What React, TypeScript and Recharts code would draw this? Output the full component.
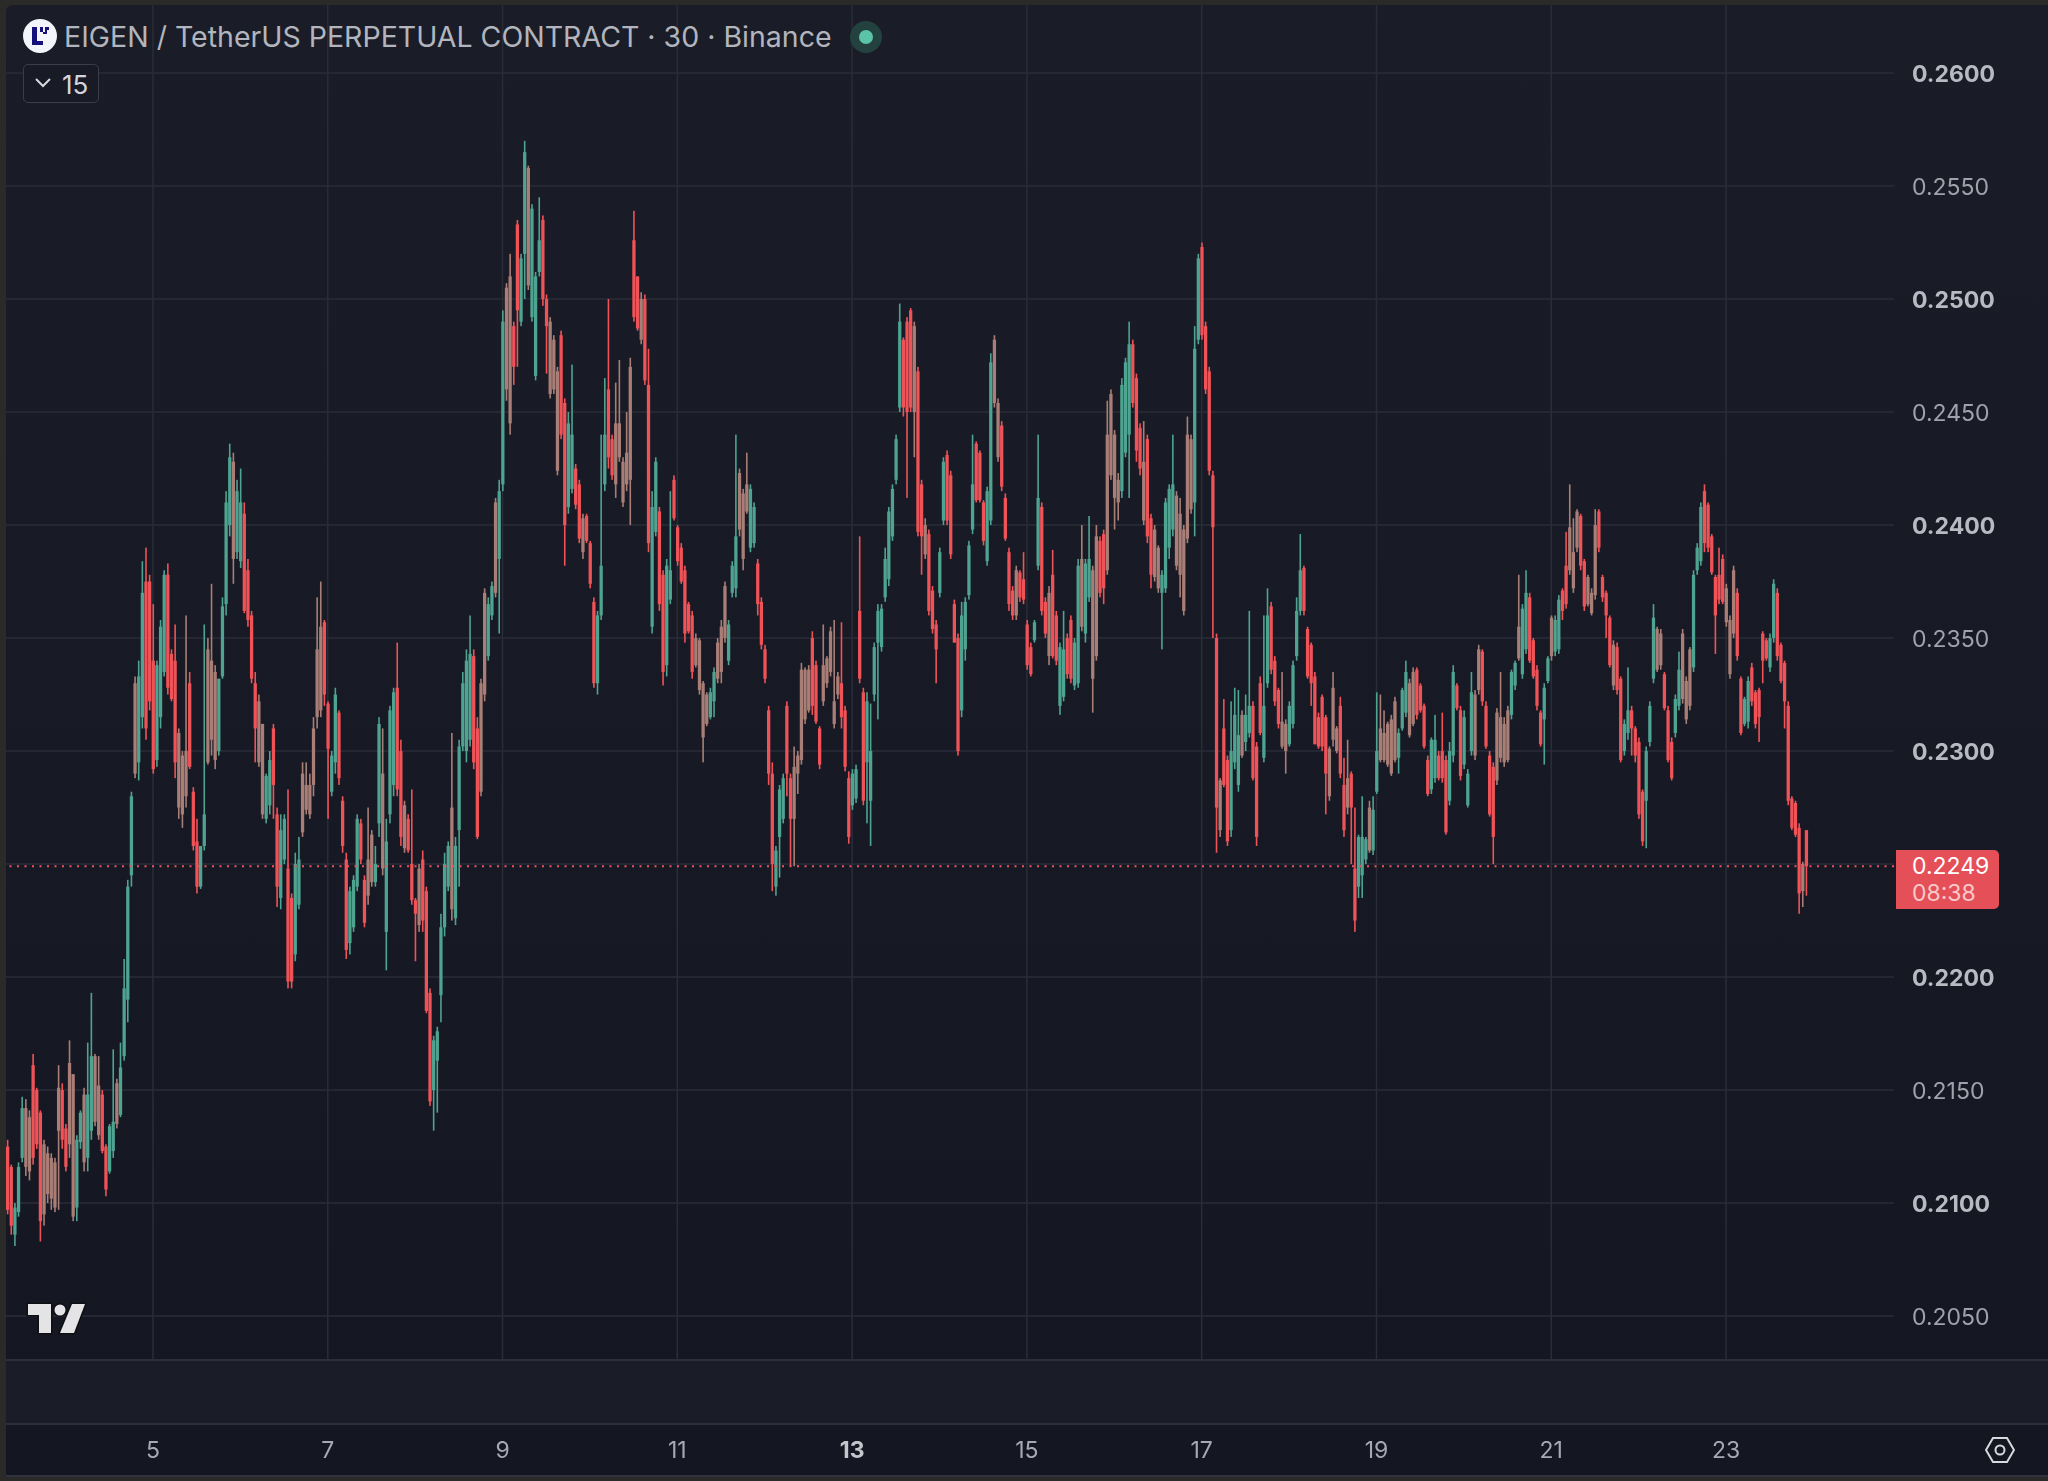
import React from 'react';
import { ComposedChart, Bar, XAxis, YAxis, CartesianGrid, ReferenceLine } from 'recharts';

// hourly candles, prices in ten-thousandths
const highs = [
  2125,2128,2117,2100,2118,2147,2146,2141,2166,2151, 2141,2128,2125,2122,2120,2161,2153,2135,2172,2157,
  2130,2141,2151,2171,2193,2166,2165,2150,2126,2135, 2168,2155,2171,2208,2243,2282,2333,2340,2384,2390,
  2378,2365,2340,2358,2380,2383,2345,2356,2310,2300, 2360,2335,2284,2270,2258,2356,2350,2374,2338,2332,
  2368,2415,2436,2432,2420,2425,2410,2385,2362,2335, 2325,2312,2290,2300,2312,2275,2272,2272,2283,2237,
  2255,2262,2295,2295,2290,2315,2368,2375,2358,2322, 2300,2328,2318,2280,2255,2240,2245,2272,2270,2245,
  2275,2265,2258,2315,2310,2270,2320,2328,2348,2305, 2278,2272,2283,2235,2250,2256,2240,2195,2174,2178,
  2228,2255,2260,2308,2262,2305,2335,2345,2360,2345, 2315,2332,2372,2368,2375,2412,2420,2495,2507,2520,
  2490,2535,2520,2570,2559,2542,2512,2545,2537,2502, 2492,2484,2470,2486,2456,2450,2471,2427,2420,2405,
  2405,2393,2368,2362,2440,2465,2500,2440,2463,2473, 2430,2450,2474,2539,2510,2503,2502,2478,2415,2430,
  2408,2380,2385,2415,2422,2400,2392,2382,2366,2362, 2352,2350,2331,2326,2328,2337,2350,2358,2375,2358,
  2384,2440,2425,2416,2432,2418,2410,2385,2368,2347, 2320,2295,2258,2285,2290,2322,2290,2302,2300,2339,
  2337,2338,2353,2340,2311,2356,2342,2355,2358,2335, 2357,2320,2291,2292,2294,2395,2328,2326,2321,2348,
  2365,2365,2390,2408,2418,2440,2498,2483,2492,2496, 2490,2470,2420,2403,2398,2373,2358,2390,2430,2433,
  2424,2367,2352,2366,2368,2393,2440,2437,2433,2411, 2417,2476,2484,2456,2446,2414,2390,2373,2382,2380,
  2388,2358,2348,2358,2440,2410,2368,2373,2389,2362, 2348,2362,2352,2360,2350,2385,2400,2385,2404,2382,
  2400,2395,2398,2455,2460,2442,2423,2465,2474,2490, 2482,2467,2445,2446,2440,2405,2400,2391,2380,2412,
  2418,2440,2415,2412,2400,2448,2440,2488,2520,2525, 2490,2470,2424,2352,2288,2323,2298,2322,2328,2327,
  2318,2325,2362,2322,2304,2333,2360,2372,2366,2342, 2328,2335,2314,2322,2340,2368,2396,2382,2355,2348,
  2335,2317,2325,2316,2302,2335,2311,2324,2297,2305, 2291,2275,2263,2280,2262,2278,2280,2326,2325,2318,
  2313,2316,2324,2310,2328,2340,2332,2337,2337,2330, 2321,2298,2306,2316,2300,2317,2298,2304,2338,2330,
  2320,2318,2292,2335,2327,2347,2345,2322,2300,2295, 2319,2335,2315,2320,2336,2340,2378,2365,2380,2370,
  2350,2338,2318,2330,2342,2360,2360,2369,2372,2397, 2418,2403,2407,2405,2385,2378,2372,2407,2407,2378,
  2371,2360,2349,2348,2333,2314,2337,2320,2311,2306, 2283,2302,2322,2365,2355,2354,2335,2320,2306,2325,
  2344,2354,2333,2346,2380,2392,2410,2418,2410,2396, 2378,2390,2387,2374,2360,2382,2372,2333,2324,2333,
  2339,2327,2328,2353,2350,2352,2376,2372,2348,2340, 2322,2280,2278,2268,2251,2265,
];

const lows = [
  2107,2095,2086,2081,2094,2118,2112,2110,2117,2124, 2083,2090,2100,2097,2096,2097,2124,2114,2120,2092,
  2092,2124,2114,2114,2128,2134,2128,2122,2103,2113, 2120,2133,2138,2163,2180,2240,2288,2287,2310,2305,
  2318,2290,2293,2310,2333,2325,2322,2288,2270,2266, 2275,2292,2256,2237,2239,2256,2294,2298,2292,2298,
  2332,2360,2395,2374,2385,2381,2361,2355,2330,2295, 2293,2270,2268,2272,2270,2231,2230,2250,2195,2195,
  2207,2230,2262,2272,2270,2280,2310,2315,2320,2270, 2280,2290,2285,2255,2208,2210,2220,2238,2250,2222,
  2232,2240,2240,2262,2245,2203,2268,2280,2280,2258, 2255,2255,2232,2207,2220,2220,2184,2143,2132,2140,
  2180,2218,2238,2225,2223,2240,2300,2295,2302,2292, 2261,2280,2322,2340,2358,2368,2352,2415,2455,2440,
  2462,2470,2488,2500,2504,2490,2464,2510,2497,2467, 2456,2458,2422,2438,2382,2405,2414,2407,2392,2385,
  2392,2372,2328,2325,2358,2415,2425,2420,2412,2428, 2408,2415,2400,2490,2486,2480,2462,2388,2352,2395,
  2362,2329,2333,2365,2402,2382,2374,2348,2352,2332, 2337,2325,2295,2311,2314,2315,2330,2330,2348,2338,
  2368,2368,2395,2380,2405,2388,2390,2360,2345,2330, 2285,2238,2236,2244,2268,2280,2249,2249,2281,2294,
  2312,2317,2316,2312,2292,2320,2328,2333,2310,2323, 2310,2291,2259,2274,2277,2330,2276,2268,2258,2322,
  2314,2344,2366,2373,2393,2418,2450,2448,2412,2450, 2430,2395,2378,2385,2360,2352,2330,2368,2400,2400,
  2385,2348,2298,2315,2340,2367,2396,2410,2410,2391, 2382,2400,2452,2428,2415,2393,2362,2358,2358,2366,
  2365,2336,2333,2348,2380,2360,2350,2338,2341,2338, 2316,2322,2332,2330,2327,2328,2353,2348,2366,2317,
  2340,2368,2365,2378,2420,2398,2402,2412,2430,2412, 2452,2428,2422,2400,2392,2372,2375,2370,2345,2370,
  2385,2395,2380,2368,2360,2392,2405,2395,2480,2482, 2458,2422,2350,2255,2262,2284,2258,2262,2292,2282,
  2297,2300,2306,2287,2258,2307,2295,2328,2334,2320, 2310,2301,2290,2302,2310,2340,2360,2360,2332,2320,
  2303,2301,2300,2272,2278,2302,2299,2288,2262,2272, 2250,2220,2235,2235,2250,2255,2254,2281,2295,2295,
  2293,2289,2295,2290,2309,2315,2306,2311,2314,2317, 2301,2280,2281,2286,2287,2286,2263,2276,2295,2318,
  2287,2292,2275,2298,2296,2325,2320,2301,2271,2250, 2285,2295,2293,2295,2314,2327,2340,2332,2343,2339,
  2332,2318,2302,2294,2330,2340,2342,2343,2358,2363, 2378,2370,2388,2380,2362,2364,2360,2367,2388,2366,
  2350,2337,2327,2325,2295,2298,2305,2298,2295,2270, 2258,2257,2302,2330,2335,2336,2318,2295,2287,2306,
  2318,2321,2312,2318,2335,2378,2382,2388,2388,2378, 2343,2365,2365,2355,2332,2350,2340,2307,2311,2310,
  2320,2310,2304,2330,2340,2335,2348,2340,2330,2310, 2276,2265,2262,2228,2231,2236,
];

const opens = [
  2124,2125,2116,2086,2096,2120,2142,2114,2161,2150, 2140,2095,2122,2102,2118,2132,2150,2133,2126,2157,
  2098,2127,2148,2120,2132,2165,2130,2148,2125,2114, 2123,2153,2139,2165,2190,2245,2330,2295,2315,2375,
  2375,2340,2296,2315,2335,2378,2343,2340,2275,2298, 2280,2330,2282,2260,2240,2258,2345,2305,2335,2300,
  2333,2365,2400,2428,2388,2384,2405,2380,2360,2330, 2295,2312,2270,2276,2310,2272,2235,2252,2248,2235,
  2210,2232,2290,2274,2285,2285,2345,2318,2357,2321, 2282,2295,2317,2278,2252,2215,2222,2240,2268,2243,
  2236,2263,2242,2268,2290,2220,2272,2285,2328,2300, 2257,2270,2250,2234,2223,2252,2238,2193,2150,2163,
  2192,2222,2240,2275,2226,2265,2302,2300,2305,2342, 2310,2282,2370,2342,2360,2410,2385,2418,2505,2445,
  2488,2533,2490,2520,2558,2492,2466,2512,2535,2500, 2458,2482,2424,2484,2454,2408,2416,2425,2418,2388,
  2404,2392,2366,2330,2360,2418,2460,2438,2418,2445, 2410,2432,2420,2526,2510,2482,2500,2462,2355,2397,
  2406,2378,2338,2367,2420,2399,2390,2380,2365,2360, 2338,2349,2306,2325,2315,2322,2348,2335,2373,2340,
  2370,2372,2423,2385,2418,2390,2392,2383,2366,2345, 2318,2290,2240,2262,2270,2320,2288,2270,2298,2296,
  2336,2318,2350,2338,2310,2322,2341,2335,2322,2325, 2330,2318,2288,2276,2279,2362,2326,2295,2278,2325,
  2348,2346,2368,2376,2395,2420,2452,2482,2490,2495, 2450,2468,2418,2387,2396,2371,2356,2370,2402,2431,
  2422,2365,2350,2318,2345,2369,2398,2436,2432,2410, 2384,2402,2482,2430,2444,2412,2388,2371,2360,2379,
  2376,2356,2346,2349,2382,2408,2366,2342,2378,2360, 2320,2324,2350,2358,2329,2330,2385,2352,2368,2380,
  2342,2393,2396,2380,2458,2412,2420,2415,2432,2440, 2480,2465,2443,2402,2438,2403,2377,2390,2370,2372,
  2390,2398,2413,2378,2398,2394,2438,2410,2482,2523, 2488,2468,2422,2350,2265,2310,2296,2265,2295,2285,
  2316,2304,2308,2320,2302,2330,2297,2330,2364,2340, 2327,2302,2312,2303,2312,2342,2362,2381,2354,2347,
  2333,2315,2324,2315,2280,2328,2300,2320,2285,2275, 2290,2248,2240,2245,2252,2275,2256,2282,2310,2296,
  2312,2290,2322,2297,2310,2317,2330,2312,2336,2329, 2320,2296,2283,2288,2298,2300,2296,2278,2298,2329,
  2318,2294,2276,2300,2325,2327,2344,2320,2298,2293, 2287,2315,2295,2318,2316,2329,2355,2334,2345,2368,
  2349,2336,2317,2314,2331,2359,2344,2345,2371,2382, 2380,2388,2390,2404,2384,2365,2370,2369,2406,2377,
  2370,2359,2329,2346,2332,2300,2308,2318,2310,2304, 2282,2278,2304,2332,2354,2338,2334,2318,2304,2308,
  2320,2352,2314,2345,2337,2380,2384,2415,2409,2395, 2377,2378,2385,2357,2358,2352,2370,2332,2312,2313,
  2337,2326,2327,2352,2349,2337,2350,2370,2347,2339, 2320,2279,2277,2266,2238,2265,
];

const closes = [
  2108,2097,2090,2098,2116,2142,2116,2138,2120,2126, 2092,2126,2104,2120,2098,2151,2128,2116,2162,2094,
  2128,2140,2118,2148,2165,2136,2152,2123,2106,2134, 2136,2135,2160,2195,2240,2280,2290,2333,2370,2310,
  2322,2292,2338,2355,2378,2328,2323,2295,2308,2272, 2300,2293,2258,2240,2258,2272,2295,2340,2296,2332,
  2364,2410,2430,2385,2415,2410,2362,2358,2332,2310, 2322,2272,2289,2296,2285,2240,2265,2270,2198,2198,
  2250,2252,2264,2285,2272,2310,2315,2355,2325,2301, 2298,2325,2288,2258,2212,2238,2243,2270,2252,2224,
  2252,2242,2250,2312,2248,2260,2318,2326,2283,2262, 2276,2256,2234,2228,2248,2225,2185,2145,2172,2176,
  2222,2250,2258,2230,2258,2302,2330,2340,2343,2295, 2262,2330,2325,2365,2373,2370,2415,2490,2460,2510,
  2470,2495,2518,2565,2506,2540,2510,2526,2500,2488, 2490,2460,2468,2440,2400,2445,2440,2409,2394,2403,
  2393,2374,2330,2360,2382,2440,2430,2422,2445,2430, 2428,2418,2470,2492,2487,2500,2464,2392,2408,2428,
  2365,2335,2382,2380,2403,2384,2375,2352,2353,2335, 2350,2327,2330,2312,2326,2335,2332,2355,2350,2356,
  2382,2395,2398,2414,2406,2416,2408,2365,2347,2332, 2290,2250,2256,2283,2288,2290,2270,2293,2290,2336,
  2314,2336,2320,2313,2294,2338,2330,2353,2312,2333, 2315,2293,2262,2290,2292,2332,2278,2322,2300,2346,
  2362,2363,2385,2406,2416,2438,2490,2452,2450,2452, 2488,2397,2395,2400,2362,2354,2345,2388,2428,2402,
  2387,2348,2300,2360,2366,2391,2418,2411,2411,2393, 2415,2472,2454,2454,2417,2394,2365,2360,2380,2368,
  2367,2338,2334,2357,2412,2362,2352,2370,2342,2340, 2346,2345,2334,2332,2348,2382,2355,2383,2385,2332,
  2395,2370,2372,2440,2422,2440,2410,2462,2472,2480, 2454,2433,2425,2428,2395,2378,2398,2372,2378,2410,
  2416,2418,2382,2405,2362,2440,2407,2478,2518,2484, 2460,2424,2399,2275,2287,2285,2260,2300,2316,2307,
  2298,2316,2320,2288,2262,2308,2320,2360,2336,2322, 2312,2313,2300,2320,2338,2362,2380,2362,2333,2330,
  2303,2302,2302,2290,2301,2305,2310,2290,2265,2288, 2275,2225,2262,2262,2261,2256,2274,2300,2296,2308,
  2294,2314,2296,2308,2327,2335,2307,2335,2316,2318, 2302,2281,2305,2305,2288,2288,2264,2300,2335,2319,
  2289,2315,2290,2326,2298,2345,2322,2302,2272,2262, 2317,2297,2312,2296,2335,2339,2341,2363,2370,2340,
  2333,2320,2303,2328,2341,2342,2358,2367,2362,2365, 2399,2372,2406,2382,2364,2377,2361,2400,2390,2368,
  2360,2338,2347,2327,2296,2312,2318,2310,2298,2272, 2260,2300,2320,2359,2336,2352,2319,2296,2288,2323,
  2336,2323,2331,2320,2378,2390,2408,2392,2390,2379, 2360,2367,2366,2372,2334,2380,2342,2308,2323,2331,
  2322,2312,2315,2340,2341,2350,2374,2342,2331,2322, 2278,2266,2263,2237,2250,2249,
];

const dayTicks = [5, 7, 9, 11, 13, 15, 17, 19, 21, 23];
const boldDays = [13];
const priceTicks = [0.205, 0.21, 0.215, 0.22, 0.225, 0.23, 0.235, 0.24, 0.245, 0.25, 0.255, 0.26];
const boldPrices = [0.21, 0.22, 0.23, 0.24, 0.25, 0.26];
const lastPrice = 0.2249;
const firstDay = 3.297;

const UP = '#4fa391';
const DOWN = '#ef5358';
const BLEND = '#a97e76';
const FONT = 'Inter, sans-serif';

const dir = (i: number) => (closes[i] >= opens[i] ? 1 : -1);

const rows = highs.map((h, i) => {
  // alternating candles smear together at this pixel density
  const lone = i > 0 && i < highs.length - 1 && dir(i - 1) !== dir(i) && dir(i + 1) !== dir(i);
  return {
    day: firstDay + i / 24,
    range: [lows[i] / 10000, h / 10000],
    open: opens[i] / 10000,
    close: closes[i] / 10000,
    color: lone ? BLEND : dir(i) > 0 ? UP : DOWN,
  };
});

const Candle = (props: any) => {
  const { x, y, width, height, payload } = props;
  const [low, high] = payload.range;
  const perUnit = height / (high - low);
  const top = y + (high - Math.max(payload.open, payload.close)) * perUnit;
  const bodyH = Math.max(Math.abs(payload.open - payload.close) * perUnit, 1);
  const mid = x + width / 2;
  return (
    <g>
      <rect x={mid - 0.8} y={y} width={1.6} height={height} fill={payload.color} />
      <rect x={x} y={top} width={width} height={bodyH} fill={payload.color} />
    </g>
  );
};

const PriceTick = (props: any) => {
  const { x, y, payload } = props;
  const bold = boldPrices.includes(payload.value);
  return (
    <text x={x + 10} y={y + 9} fontFamily={FONT} fontSize={23} fontWeight={bold ? 700 : 400} fill={bold ? '#b8bac2' : '#9fa2ab'}>
      {payload.value.toFixed(4)}
    </text>
  );
};

const DayTick = (props: any) => {
  const { x, payload } = props;
  const bold = boldDays.includes(payload.value);
  return (
    <text x={x} y={1458} textAnchor="middle" fontFamily={FONT} fontSize={23} fontWeight={bold ? 700 : 400} fill={bold ? '#c4c6cc' : '#a6a9b2'}>
      {payload.value}
    </text>
  );
};

const rule = (top: number): React.CSSProperties => ({
  position: 'absolute', left: 6, right: 0, top, height: 2, background: '#2c2f3a',
});

export default function App() {
  return (
    <div style={{ position: 'absolute', left: 0, top: 0, width: 2048, height: 1481, overflow: 'hidden', background: '#2a2b29', fontFamily: FONT }}>
      <div style={{ position: 'absolute', left: 6, top: 5, width: 2042, height: 1472, background: 'linear-gradient(#1a1d27, #141722)', borderRadius: '6px 0 0 0' }} />
      <div style={{ position: 'absolute', left: 6, right: 0, top: 1360, height: 63, background: '#1a1c27' }} />
      <div style={{ position: 'absolute', left: 0, top: 0, filter: 'blur(0.4px)' }}>
        <ComposedChart width={2048} height={1481} data={rows} margin={{ top: 5, right: 0, bottom: 0, left: 6 }}>
          <CartesianGrid stroke="#2a2d38" strokeWidth={1.5} syncWithTicks />
          <XAxis
            dataKey="day"
            type="number"
            domain={[3.318, 24.922]}
            ticks={dayTicks}
            interval={0}
            height={122}
            axisLine={false}
            tickLine={false}
            tick={<DayTick />}
            allowDataOverflow
          />
          <YAxis
            orientation="right"
            type="number"
            domain={[0.2031, 0.26301]}
            ticks={priceTicks}
            interval={0}
            width={154}
            axisLine={false}
            tickLine={false}
            tick={<PriceTick />}
            allowDataOverflow
          />
          <ReferenceLine y={lastPrice} stroke="#f0525a" strokeWidth={2} strokeDasharray="2 5.5" />
          <Bar dataKey="range" barSize={3.7} shape={<Candle />} isAnimationActive={false} />
        </ComposedChart>
      </div>

      <div style={rule(1359)} />
      <div style={rule(1423)} />
      <div style={{ ...rule(1475), background: '#30333d' }} />

      {/* header */}
      <svg style={{ position: 'absolute', left: 22, top: 18 }} width={36} height={36}>
        <circle cx={18} cy={18} r={17} fill="#f4f5fa" />
        <path d="M10 9h5v14h6v4H10zM18 9h3v5h-3zM23 9h4v3h-2v4h-4v-2h2z" fill="#16107a" />
      </svg>
      <div style={{ position: 'absolute', left: 64, top: 19, fontSize: 28.5, lineHeight: '36px', color: '#b2b5be', whiteSpace: 'nowrap' }}>
        EIGEN / TetherUS PERPETUAL CONTRACT · 30 · Binance
      </div>
      <svg style={{ position: 'absolute', left: 848, top: 19 }} width={36} height={36}>
        <circle cx={18} cy={18} r={16} fill="#23423f" />
        <circle cx={18} cy={18} r={7} fill="#5cc3ab" />
      </svg>
      <div style={{ position: 'absolute', left: 23, top: 64, width: 74, height: 37, border: '1.5px solid #3b3e49', borderRadius: 5, background: '#181b25' }}>
        <svg style={{ position: 'absolute', left: 10, top: 11 }} width={20} height={14}>
          <path d="M2 3l7 7 7-7" fill="none" stroke="#d8d9de" strokeWidth={2} />
        </svg>
        <span style={{ position: 'absolute', left: 38, top: 4, fontSize: 26, lineHeight: '32px', color: '#d4d5da' }}>15</span>
      </div>

      {/* last price tag */}
      <div style={{ position: 'absolute', left: 1896, top: 850, width: 103, height: 59, background: '#e54f57', borderRadius: '0 5px 5px 0' }}>
        <div style={{ position: 'absolute', left: 16, top: 4, fontSize: 23, lineHeight: '24px', color: '#ffffff' }}>0.2249</div>
        <div style={{ position: 'absolute', left: 16, top: 31, fontSize: 23, lineHeight: '24px', color: '#f8c9cb' }}>08:38</div>
      </div>

      {/* logo and settings */}
      <svg style={{ position: 'absolute', left: 25, top: 1300 }} width={64} height={36}>
        <g stroke="#0e0f12" strokeWidth={3} paintOrder="stroke" fill="#e4e4e6">
          <path d="M3 4H26V33H14V15H3z" />
          <path d="M47 4H60L49 33H35z" />
          <circle cx={35} cy={10} r={5.5} />
        </g>
      </svg>
      <svg style={{ position: 'absolute', left: 1985, top: 1436 }} width={30} height={28}>
        <path d="M8 2h14l7 12-7 12H8L1 14z" fill="none" stroke="#d8d9de" strokeWidth={2} />
        <circle cx={15} cy={14} r={4.5} fill="none" stroke="#d8d9de" strokeWidth={2} />
      </svg>
    </div>
  );
}
